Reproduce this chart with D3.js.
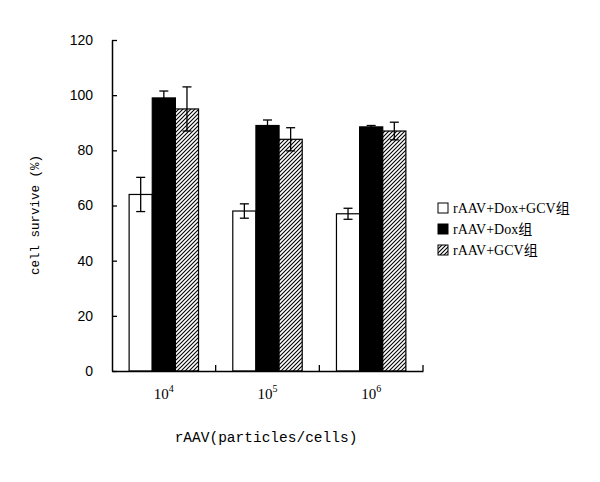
<!DOCTYPE html>
<html>
<head>
<meta charset="utf-8">
<script src="https://cdn.jsdelivr.net/npm/d3@7"></script>
<style>
  body { margin: 0; background: #fff; }
  svg { display: block; }
</style>
</head>
<body>
<svg id="chart" width="600" height="482"></svg>
<script>
// data
var categories = ["10^4", "10^5", "10^6"];
var seriesNames = ["rAAV+Dox+GCV组", "rAAV+Dox组", "rAAV+GCV组"];
var meanValues = [
  [64, 58, 57],     // rAAV+Dox+GCV
  [99, 89, 88.5],   // rAAV+Dox
  [95, 84, 87]      // rAAV+GCV
];
var errValues = [
  [6.2, 2.6, 2],
  [2.5, 2, 0.5],
  [8, 4.2, 3.2]
];
var yTicks = [0, 20, 40, 60, 80, 100, 120];

var svg = d3.select("#chart");

// plot area
var plotL = 112, plotR = 423, plotT = 40, plotB = 371;

var x0 = d3.scaleBand()
  .domain(categories)
  .range([plotL, plotR])
  .padding(0);

var x1 = d3.scaleBand()
  .domain(d3.range(seriesNames.length))
  .range([0, x0.bandwidth()])
  .paddingInner(0)
  .paddingOuter(0.74);

var y = d3.scaleLinear()
  .domain([0, 120])
  .range([plotB, plotT]);

// hatch pattern
var defs = svg.append("defs");
var pat = defs.append("pattern")
  .attr("id", "hatch")
  .attr("patternUnits", "userSpaceOnUse")
  .attr("width", 4)
  .attr("height", 4);
pat.append("rect").attr("width", 4).attr("height", 4).attr("fill", "#fff");
pat.append("path")
  .attr("d", "M-1,1 l2,-2 M0,4 l4,-4 M3,5 l2,-2")
  .attr("stroke", "#000")
  .attr("stroke-width", 1.1);

var fills = ["#fff", "#000", "url(#hatch)"];

// bars
var rows = [];
categories.forEach(function(c, ci) {
  seriesNames.forEach(function(s, si) {
    rows.push({cat: c, s: si, v: meanValues[si][ci], e: errValues[si][ci]});
  });
});

svg.append("g").selectAll("rect")
  .data(rows)
  .enter().append("rect")
  .attr("x", function(d) { return x0(d.cat) + x1(d.s); })
  .attr("y", function(d) { return y(d.v); })
  .attr("width", x1.bandwidth())
  .attr("height", function(d) { return y(0) - y(d.v); })
  .attr("fill", function(d) { return fills[d.s]; })
  .attr("stroke", "#000")
  .attr("stroke-width", 1.2);

// error bars
var eg = svg.append("g").attr("stroke", "#000").attr("stroke-width", 1.3);
rows.forEach(function(d) {
  var cx = x0(d.cat) + x1(d.s) + x1.bandwidth() / 2;
  var capW = 4.5;
  var lo = d.s == 1 ? d.v : d.v - d.e;   // lower half hidden in black bar
  eg.append("line").attr("x1", cx).attr("x2", cx).attr("y1", y(d.v + d.e)).attr("y2", y(lo));
  eg.append("line").attr("x1", cx - capW).attr("x2", cx + capW).attr("y1", y(d.v + d.e)).attr("y2", y(d.v + d.e));
  if (d.s != 1) {
    eg.append("line").attr("x1", cx - capW).attr("x2", cx + capW).attr("y1", y(lo)).attr("y2", y(lo));
  }
});

// y axis
var yAxis = d3.axisLeft(y)
  .tickValues(yTicks)
  .tickSizeInner(-5)
  .tickSizeOuter(0)
  .tickPadding(19);

var gy = svg.append("g")
  .attr("transform", "translate(" + plotL + ",0)")
  .call(yAxis);
gy.select(".domain").attr("stroke-width", 1.5);
gy.selectAll(".tick line").attr("stroke-width", 1.3);
gy.selectAll(".tick text")
  .attr("font-family", "'Liberation Sans', Arial, sans-serif")
  .attr("font-size", 14)
  .attr("fill", "#000");

// x axis
var xAxis = d3.axisBottom(x0).tickSize(0).tickPadding(0).tickFormat("");
var gx = svg.append("g")
  .attr("transform", "translate(0," + plotB + ")")
  .call(xAxis);
gx.select(".domain").attr("stroke-width", 1.5);

// boundary ticks pointing up
gx.selectAll(".bound")
  .data(categories)
  .enter().append("line")
  .attr("class", "bound")
  .attr("x1", function(d) { return x0(d) + x0.bandwidth(); })
  .attr("x2", function(d) { return x0(d) + x0.bandwidth(); })
  .attr("y1", 0)
  .attr("y2", -6)
  .attr("stroke", "#000")
  .attr("stroke-width", 1.3);

// tick labels with superscript
var lab = gx.selectAll(".tick text")
  .attr("y", 28)
  .attr("dy", null)
  .attr("font-family", "'Liberation Serif', 'Times New Roman', serif")
  .attr("font-size", 15)
  .attr("fill", "#000")
  .attr("text-anchor", "middle")
  .text(null);
lab.each(function(d) {
  var parts = d.split("^");
  var t = d3.select(this);
  t.append("tspan").text(parts[0]);
  t.append("tspan").attr("font-size", 10).attr("dy", -7).text(parts[1]);
});

// axis titles
svg.append("text")
  .attr("x", 266)
  .attr("y", 442)
  .attr("text-anchor", "middle")
  .attr("font-family", "'Liberation Mono', 'Courier New', monospace")
  .attr("font-size", 14.5)
  .text("rAAV(particles/cells)");

svg.append("text")
  .attr("transform", "translate(39,215) rotate(-90)")
  .attr("text-anchor", "middle")
  .attr("font-family", "'Liberation Mono', 'Courier New', monospace")
  .attr("font-size", 12.5)
  .text("cell survive (%)");

// legend
var legend = svg.append("g").attr("transform", "translate(438,203)");
var li = legend.selectAll("g")
  .data(seriesNames)
  .enter().append("g")
  .attr("transform", function(d, i) { return "translate(0," + i * 21 + ")"; });
li.append("rect")
  .attr("width", 10)
  .attr("height", 10)
  .attr("fill", function(d, i) { return fills[i]; })
  .attr("stroke", "#000")
  .attr("stroke-width", 1);
li.append("text")
  .attr("x", 15)
  .attr("y", 10)
  .attr("font-family", "'Liberation Serif', 'Noto Sans CJK SC', serif")
  .attr("font-size", 14)
  .text(function(d) { return d; });
</script>
</body>
</html>
